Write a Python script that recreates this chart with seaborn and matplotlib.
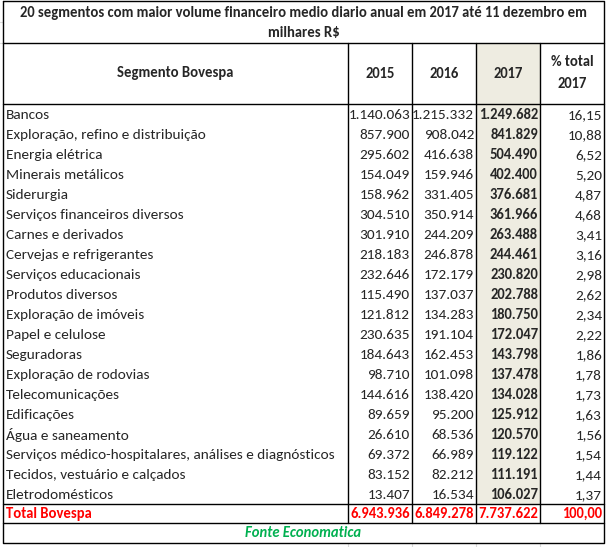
import matplotlib
matplotlib.use("Agg")
import matplotlib.pyplot as plt
from matplotlib.colors import ListedColormap
import seaborn as sns
import pandas as pd

sns.set_style("white")
plt.rcParams['font.family'] = ['Carlito', 'Lato', 'DejaVu Sans']

title_lines = ["20 segmentos com maior volume financeiro medio diario anual em 2017 até 11 dezembro em",
               "milhares R$"]
header = ["Segmento Bovespa", "2015", "2016", "2017", "% total\n2017"]
segments = ["Bancos", "Exploração, refino e distribuição", "Energia elétrica", "Minerais metálicos",
            "Siderurgia", "Serviços financeiros diversos", "Carnes e derivados",
            "Cervejas e refrigerantes", "Serviços educacionais", "Produtos diversos",
            "Exploração de imóveis", "Papel e celulose", "Seguradoras", "Exploração de rodovias",
            "Telecomunicações", "Edificações", "Água e saneamento",
            "Serviços médico-hospitalares, análises e diagnósticos",
            "Tecidos, vestuário e calçados", "Eletrodomésticos"]
v2015 = [1140063, 857900, 295602, 154049, 158962, 304510, 301910, 218183, 232646, 115490,
         121812, 230635, 184643, 98710, 144616, 89659, 26610, 69372, 83152, 13407]
v2016 = [1215332, 908042, 416638, 159946, 331405, 350914, 244209, 246878, 172179, 137037,
         134283, 191104, 162453, 101098, 138420, 95200, 68536, 66989, 82212, 16534]
v2017 = [1249682, 841829, 504490, 402400, 376681, 361966, 263488, 244461, 230820, 202788,
         180750, 172047, 143798, 137478, 134028, 125912, 120570, 119122, 111191, 106027]
pct2017 = [16.15, 10.88, 6.52, 5.20, 4.87, 4.68, 3.41, 3.16, 2.98, 2.62,
           2.34, 2.22, 1.86, 1.78, 1.73, 1.63, 1.56, 1.54, 1.44, 1.37]
total_label = "Total Bovespa"
total_values = [6943936, 6849278, 7737622, 100.00]
source = "Fonte Economatica"

df = pd.DataFrame({"seg": segments, "y2015": v2015, "y2016": v2016, "y2017": v2017, "pct": pct2017})

W, H = 607, 547
fig = plt.figure(figsize=(W / 100, H / 100), dpi=100)
ax = fig.add_axes([0, 0, 1, 1])
ax.set_xlim(0, W)
ax.set_ylim(H, 0)
ax.axis('off')

# geometry (pixels)
xL, xR = 3, 604
cols = [xL, 348, 412, 476, 540, xR]
y_top, y_title, y_head, row_h = 1, 43, 104, 20
n = len(df)
y_total_top = y_head + n * row_h + 1
y_total_bot = y_total_top + 18
y_bot = y_total_bot + 20

def num(v):
    return f"{v:,}".replace(",", ".")

def pct(v):
    return f"{v:.2f}".replace(".", ",")

# highlighted 2017 column via seaborn heatmap
hax = fig.add_axes([cols[3] / W, 1 - y_total_top / H, (cols[4] - cols[3]) / W, (y_total_top - y_title) / H])
sns.heatmap(pd.DataFrame([[1.0]]), ax=hax, cmap=ListedColormap(["#EEECE1"]), cbar=False,
            xticklabels=False, yticklabels=False)
hax.axis('off')
ax.set_zorder(2)
ax.patch.set_alpha(0)

# faint excel gridlines outside the table
grid_c = "#DADADA"
for x in cols[1:-1]:
    ax.plot([x, x], [y_bot, H], color=grid_c, lw=0.8)
ax.plot([0, xL], [22, 22], color=grid_c, lw=0.8)
ax.plot([0, xL], [y_title, y_title], color=grid_c, lw=0.8)

lc = "black"
lw = 1.0
ax.plot([xL, xR, xR, xL, xL], [y_top, y_top, y_bot, y_bot, y_top], color=lc, lw=lw)
for y in [y_title, y_head, y_total_top - 1, y_total_bot]:
    ax.plot([xL, xR], [y, y], color=lc, lw=lw)
for x in cols[1:-1]:
    ax.plot([x, x], [y_title, y_total_bot], color=lc, lw=lw)

fsb = 10.56   # bold text
fs = 11.0     # regular text
ax.text(W / 2, 13, title_lines[0], ha='center', va='center', fontsize=fsb, fontweight='bold')
ax.text(W / 2, 33, title_lines[1], ha='center', va='center', fontsize=fsb, fontweight='bold')

yh = (y_title + y_head) / 2
for i, h in enumerate(header):
    cx = (cols[i] + cols[i + 1]) / 2
    if "\n" in h:
        a, b = h.split("\n")
        ax.text(cx, yh - 11, a, ha='center', va='center', fontsize=fsb, fontweight='bold')
        ax.text(cx, yh + 11, b, ha='center', va='center', fontsize=fsb, fontweight='bold')
    else:
        ax.text(cx, yh, h, ha='center', va='center', fontsize=fsb, fontweight='bold')

for i, r in df.iterrows():
    yc = y_head + row_h * i + row_h / 2 + 1
    ax.text(xL + 3, yc, r.seg, ha='left', va='center', fontsize=fs)
    ax.text(cols[2] - 2, yc, num(r.y2015), ha='right', va='center', fontsize=fs)
    ax.text(cols[3] - 2, yc, num(r.y2016), ha='right', va='center', fontsize=fs)
    ax.text(cols[4] - 2, yc, num(r.y2017), ha='right', va='center', fontsize=fsb, fontweight='bold')
    ax.text(cols[5] - 2, yc, pct(r.pct), ha='right', va='center', fontsize=fs)

red = "#FF0000"
yc = (y_total_top + y_total_bot) / 2
ax.text(xL + 3, yc, total_label, ha='left', va='center', fontsize=fsb, fontweight='bold', color=red)
for j, v in enumerate(total_values):
    s = pct(v) if j == 3 else num(v)
    ax.text(cols[j + 2] - 2, yc, s, ha='right', va='center', fontsize=fsb, fontweight='bold', color=red)

ax.text(W / 2, (y_total_bot + y_bot) / 2, source, ha='center', va='center', fontsize=fsb,
        fontweight='bold', fontstyle='italic', color="#00B050")

fig.savefig("out.png", dpi=100)
